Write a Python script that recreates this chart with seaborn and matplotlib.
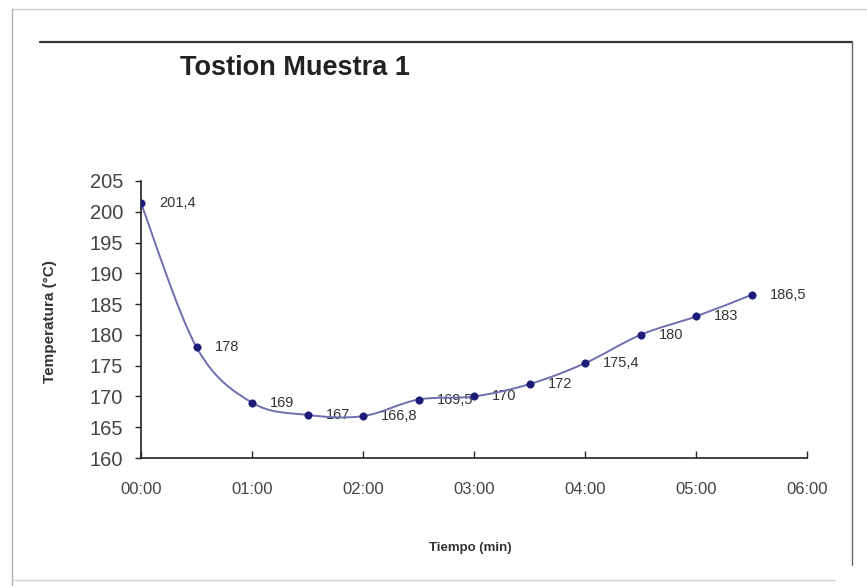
import numpy as np
import pandas as pd
import matplotlib
matplotlib.use("Agg")
import matplotlib.pyplot as plt
from matplotlib.path import Path
from matplotlib.patches import PathPatch
from matplotlib.lines import Line2D
import seaborn as sns

# ---- data ----
tiempo_min = [0.0, 0.5, 1.0, 1.5, 2.0, 2.5, 3.0, 3.5, 4.0, 4.5, 5.0, 5.5]
temperatura = [201.4, 178, 169, 167, 166.8, 169.5, 170, 172, 175.4, 180, 183, 186.5]
x_ticks = [0, 1, 2, 3, 4, 5, 6]
x_tick_labels = ["00:00", "01:00", "02:00", "03:00", "04:00", "05:00", "06:00"]
y_ticks = [160, 165, 170, 175, 180, 185, 190, 195, 200, 205]
titulo = "Tostion Muestra 1"
x_label = "Tiempo (min)"
y_label = "Temperatura (°C)"

df = pd.DataFrame({"t": tiempo_min, "T": temperatura})

sns.set_style("white")
plt.rcParams["font.family"] = ["Liberation Sans", "DejaVu Sans"]

W, H = 867, 586
fig = plt.figure(figsize=(W / 100, H / 100), dpi=100)
ax = fig.add_axes([141 / W, 1 - 458 / H, (807 - 141) / W, (458 - 181) / H])

line_col = "#6e6eb0"
mark_col = "#1c1c78"

# smoothed line (Catmull-Rom as cubic Bezier, like a spreadsheet smoothed line)
pts = np.column_stack([df["t"].to_numpy(), df["T"].to_numpy()])
verts = [tuple(pts[0])]
codes = [Path.MOVETO]
n = len(pts)
for i in range(n - 1):
    p0 = pts[i - 1] if i > 0 else pts[i]
    p1 = pts[i]
    p2 = pts[i + 1]
    p3 = pts[i + 2] if i + 2 < n else pts[i + 1]
    c1 = p1 + (p2 - p0) / 6.0
    c2 = p2 - (p3 - p1) / 6.0
    verts += [tuple(c1), tuple(c2), tuple(p2)]
    codes += [Path.CURVE4] * 3
ax.add_patch(PathPatch(Path(verts, codes), fill=False, edgecolor=line_col, lw=1.4, zorder=2))

sns.scatterplot(data=df, x="t", y="T", ax=ax, color=mark_col, s=28, edgecolor=mark_col,
                linewidth=0.5, zorder=3, legend=False)

for t, v in zip(tiempo_min, temperatura):
    lab = f"{v:g}".replace(".", ",")
    ax.annotate(lab, (t, v), xytext=(13, 0), textcoords="offset points",
                ha="left", va="center", fontsize=10.5, color="#333333", zorder=1)

ax.set_xlim(0, 6)
ax.set_ylim(160, 205)
ax.set_xticks(x_ticks)
ax.set_xticklabels(x_tick_labels)
ax.set_yticks(y_ticks)
ax.set_xlabel("")
ax.set_ylabel("")
ax.tick_params(axis="x", direction="in", length=5, width=1, pad=17, labelsize=12,
               labelcolor="#444444", bottom=True)
ax.tick_params(axis="y", direction="out", length=4, width=1, pad=9, labelsize=14.5,
               labelcolor="#444444", left=True)
for s in ["top", "right"]:
    ax.spines[s].set_visible(False)
for s in ["left", "bottom"]:
    ax.spines[s].set_color("#222222")
    ax.spines[s].set_linewidth(1.2)

# texts
fig.text(180 / W, 1 - 68 / H, titulo, ha="left", va="center", fontsize=19.5,
         fontweight="bold", color="#222222")
fig.text(470 / W, 1 - 548 / H, x_label, ha="center", va="center", fontsize=9.5,
         fontweight="bold", color="#333333")
fig.text(50 / W, 1 - 322 / H, y_label, ha="center", va="center", fontsize=11,
         fontweight="bold", color="#333333", rotation=90)

# frames
def fl(x0, y0, x1, y1, c, lw):
    fig.add_artist(Line2D([x0 / W, x1 / W], [1 - y0 / H, 1 - y1 / H], color=c, lw=lw,
                          transform=fig.transFigure))

fl(12, 9, 867, 9, "#c8c8c8", 1.0)
fl(12, 9, 12, 586, "#b0b0b0", 1.0)
fl(12, 580, 835, 580, "#d0d0d0", 1.0)
fl(40, 42, 852, 42, "#333333", 1.6)
fl(852, 42, 852, 565, "#666666", 1.0)

fig.savefig("out.png", dpi=100)
